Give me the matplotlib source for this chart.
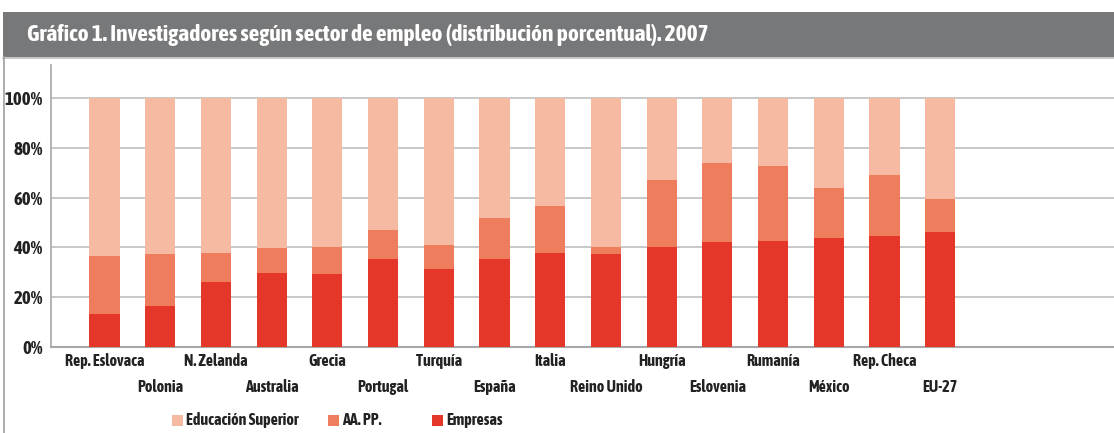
import matplotlib
matplotlib.use("Agg")
import matplotlib.pyplot as plt
from matplotlib.patches import Rectangle
from matplotlib.lines import Line2D
from matplotlib import font_manager
import numpy as np


def _w(v):
    if isinstance(v, (int, float)):
        return v
    return font_manager.weight_dict.get(str(v).lower(), 400)


# pick a condensed bold font if available
cands = [f for f in font_manager.fontManager.ttflist
         if ("Narrow" in f.name or "Condensed" in f.name)]
bold_cands = [f for f in cands if _w(f.weight) >= 600]
narrow_family = None
if bold_cands:
    narrow_family = bold_cands[0].name
elif cands:
    narrow_family = cands[0].name
scale = 1.0
if narrow_family is None:
    narrow_family = "DejaVu Sans"
    scale = 0.85
plt.rcParams['font.family'] = [narrow_family, 'DejaVu Sans']

categories = ["Rep. Eslovaca", "Polonia", "N. Zelanda", "Australia", "Grecia",
              "Portugal", "Turquía", "España", "Italia", "Reino Unido", "Hungría",
              "Eslovenia", "Rumanía", "México", "Rep. Checa", "EU-27"]
empresas = [13.2, 16.4, 26.1, 29.7, 29.3, 35.4, 31.3, 35.4, 37.6, 37.2, 40.0,
            42.0, 42.4, 43.6, 44.4, 46.4]
aapp_top = [36.4, 37.2, 37.6, 39.6, 40.0, 47.2, 40.8, 51.7, 56.5, 40.0, 67.0,
            73.8, 72.6, 63.8, 69.0, 59.3]
aapp = [a - e for a, e in zip(aapp_top, empresas)]
educacion = [100 - a for a in aapp_top]
series_names = ["Educación Superior", "AA. PP.", "Empresas"]
colors = {"Educación Superior": "#F6B9A1", "AA. PP.": "#EE7D5E", "Empresas": "#E4372A"}
yticks = [0, 20, 40, 60, 80, 100]
ytick_labels = ["0%", "20%", "40%", "60%", "80%", "100%"]
title = "Gráfico 1. Investigadores según sector de empleo (distribución porcentual). 2007"

W, H = 1114, 433
fig = plt.figure(figsize=(W / 100, H / 100), dpi=100)

# title bar
fig.patches.append(Rectangle((3 / W, 1 - 57 / H), 1 - 3 / W, 45 / H,
                             transform=fig.transFigure, facecolor="#77787A",
                             edgecolor="none", zorder=0))
fig.text(27 / W, 1 - 35 / H, title, color="white", fontsize=16.8 * scale,
         fontweight="bold", va="center", ha="left")
fig.lines.append(Line2D([3 / W, 1], [1 - 58 / H, 1 - 58 / H], transform=fig.transFigure,
                        color="#BDBDBD", lw=1.2))
fig.lines.append(Line2D([3.5 / W, 3.5 / W], [0, 1 - 57 / H], transform=fig.transFigure,
                        color="#A0A0A0", lw=1.2))

ax_left, ax_right = 51, 1114
ax_top, ax_bottom = 65, 347
ax = fig.add_axes([ax_left / W, 1 - ax_bottom / H, (ax_right - ax_left) / W,
                   (ax_bottom - ax_top) / H])

x = np.arange(len(categories))
width = 0.54
ax.bar(x, empresas, width, color=colors["Empresas"], zorder=3)
ax.bar(x, aapp, width, bottom=empresas, color=colors["AA. PP."], zorder=3)
ax.bar(x, educacion, width, bottom=aapp_top, color=colors["Educación Superior"], zorder=3)

ax.set_xlim(-0.96, 18.12)
ax.set_ylim(0, 113.3)
ax.set_yticks(yticks)
ax.set_yticklabels(ytick_labels, fontsize=13.5 * scale, fontweight="bold", color="#222222")
ax.tick_params(axis="y", length=0, pad=6)
ax.tick_params(axis="x", length=0, labelbottom=False)
ax.yaxis.grid(True, color="#C4C4C4", lw=1.3, zorder=0)
ax.set_axisbelow(True)
for s in ["top", "right"]:
    ax.spines[s].set_visible(False)
ax.spines["left"].set_color("#A8A8A8")
ax.spines["bottom"].set_color("#A8A8A8")
ax.spines["left"].set_linewidth(1.2)
ax.spines["bottom"].set_linewidth(1.5)

for i, c in enumerate(categories):
    yoff = -14 / (ax_bottom - ax_top) if i % 2 == 0 else -40 / (ax_bottom - ax_top)
    ax.text(i, yoff, c, transform=ax.get_xaxis_transform(), ha="center", va="center",
            fontsize=11.5 * scale, fontweight="bold", color="#222222")

# legend
leg_y = 1 - 420 / H
leg_items = [(172, "Educación Superior"), (328, "AA. PP."), (432, "Empresas")]
for px, name in leg_items:
    fig.patches.append(Rectangle((px / W, leg_y - 5.5 / H), 11 / W, 11 / H,
                                 transform=fig.transFigure, facecolor=colors[name],
                                 edgecolor="none"))
    fig.text((px + 14) / W, leg_y, name, fontsize=11.5 * scale, fontweight="bold",
             color="#222222", va="center", ha="left")

fig.savefig("out.png", dpi=100)
